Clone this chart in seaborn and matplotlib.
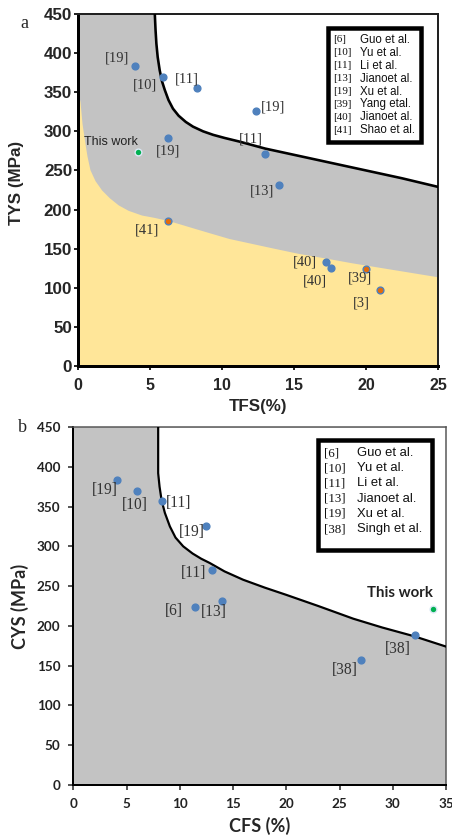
import matplotlib
matplotlib.use('Agg')
import pandas as pd
import matplotlib.pyplot as plt
import seaborn as sns
from matplotlib.patches import Rectangle

# ---- panel a : tensile data ----
tfs = [4.0, 5.9, 8.25, 6.3, 4.2, 12.4, 13.0, 14.0, 6.3, 17.2, 17.6, 20.0, 21.0]
tys = [383, 369, 356, 292, 274, 326, 271, 232, 186, 133, 125, 124, 97]
refs_a = ['[19]', '[10]', '[11]', '[19]', 'This work', '[19]', '[11]', '[13]',
          '[41]', '[40]', '[40]', '[39]', '[3]']
kind_a = ['lit', 'lit', 'lit', 'lit', 'this', 'lit', 'lit', 'lit',
          'alt', 'lit', 'lit', 'alt', 'alt']

# upper boundary (black line) and lower boundary (yellow region), panel a
bound_a_x = [5.35, 5.40, 5.46, 5.55, 5.69, 5.85, 6.04, 6.3, 6.61, 7.0, 7.5, 8.0, 8.7,
             9.4, 10.2, 11.2, 12.0, 13.0, 14.5, 16.0, 18.0, 20.0, 22.5, 25.0]
bound_a_y = [450, 430, 412, 395, 378, 364, 353, 340, 329, 320, 312, 306, 300,
             295.5, 291.5, 287, 283, 278, 272, 266, 258, 250, 240, 229]
yellow_x = [0, 0.08, 0.16, 0.3, 0.5, 0.65, 0.85, 1.2, 1.66, 2.2, 2.81, 3.5, 4.43, 5.3,
            6.27, 7.2, 8.1, 9.2, 10.5, 12.0, 13.5, 15.3, 17.2, 19.0, 21.0, 23.0, 25.0]
yellow_y = [347, 345, 338, 310, 285, 268, 251, 237, 225, 215, 206, 199, 193, 190,
            186, 181, 176, 170, 163, 157, 151, 144, 138, 132, 126, 120, 114]

legend_refs_a = ['[6]', '[10]', '[11]', '[13]', '[19]', '[39]', '[40]', '[41]']
legend_names_a = ['Guo et al.', 'Yu et al.', 'Li et al.', 'Jianoet al.', 'Xu et al.',
                  'Yang etal.', 'Jianoet al.', 'Shao et al.']

# ---- panel b : compressive data ----
cfs = [4.07, 5.95, 8.29, 12.45, 12.98, 11.44, 14.0, 33.77, 32.05, 27.05]
cys = [383, 369, 357, 325, 270, 224, 231, 221, 189, 157]
refs_b = ['[19]', '[10]', '[11]', '[19]', '[11]', '[6]', '[13]', 'This work', '[38]', '[38]']
kind_b = ['lit'] * 7 + ['this', 'lit', 'lit']

bound_b_x = [7.97, 7.97, 8.1, 8.29, 8.6, 9.07, 9.6, 10.32, 11.2, 12.0, 12.82, 14.2,
             15.95, 18.0, 20.0, 23.0, 26.3, 29.0, 32.0, 35.0]
bound_b_y = [450, 392, 375, 358, 342, 325, 311, 300, 291, 284.5, 279, 268.5,
             258, 248, 239, 225, 209, 198, 187, 174]

legend_refs_b = ['[6]', '[10]', '[11]', '[13]', '[19]', '[38]']
legend_names_b = ['Guo et al.', 'Yu et al.', 'Li et al.', 'Jianoet al.', 'Xu et al.', 'Singh et al.']

# label offsets (pixels) from each point
offs_a = [(-18, 8), (-18, -8), (-10, 9), (0, -13), (-27, 10), (17, 4), (-14, 15),
          (-17, -6), (-21, -9), (-21, 0), (-16, -13), (-6, -9), (-19, -13)]
offs_b = [(-12, -10), (-2, -14), (17, -2), (-14, -6), (-18, -3), (-21, -4), (-9, -11),
          (-33, 16), (-17, -14), (-17, -10)]

sns.set_style('ticks')
plt.rcParams['font.family'] = ['Liberation Sans', 'DejaVu Sans']

W, H = 452, 837
fig = plt.figure(figsize=(W / 72, H / 72), dpi=72)


def fx(x):
    return x / W


def fy(y):
    return 1 - y / H


ax_a = fig.add_axes([fx(77.7), fy(366), (438 - 77.7) / W, 352 / H])
ax_b = fig.add_axes([fx(73.3), fy(785), (446 - 73.3) / W, 358 / H])

gray = '#c3c3c3'
blue = '#4f81bd'
orange = '#e46c0a'
green = '#00b050'
palette = {'lit': blue, 'alt': orange, 'this': green}
edges = {'lit': blue, 'alt': blue, 'this': '#dbe8f5'}


def draw_points(ax, df, offs, ref_size, this_font):
    for k, sub in df.groupby('kind'):
        sns.scatterplot(data=sub, x='x', y='y', ax=ax, color=palette[k], s=46,
                        edgecolor=edges[k], linewidth=1.4, zorder=5, legend=False)
    for (_, r), (dx, dy) in zip(df.iterrows(), offs):
        if r['kind'] == 'this':
            ax.annotate(r['ref'], (r['x'], r['y']), xytext=(dx, dy), textcoords='offset points',
                        ha='center', va='center', zorder=6, **this_font)
        else:
            ax.annotate(r['ref'], (r['x'], r['y']), xytext=(dx, dy), textcoords='offset points',
                        ha='center', va='center', family='Liberation Serif', fontsize=ref_size,
                        color='#333333', zorder=6)


# ---------------- panel a ----------------
ax_a.set_facecolor(gray)
ax_a.fill_between(bound_a_x, bound_a_y, 450, color='white', lw=0, zorder=1)
ax_a.fill_between(yellow_x, 0, yellow_y, color='#ffe699', lw=0, zorder=1)
sns.lineplot(x=bound_a_x, y=bound_a_y, ax=ax_a, color='black', lw=2.6,
             estimator=None, sort=False, zorder=3)
df_a = pd.DataFrame({'x': tfs, 'y': tys, 'ref': refs_a, 'kind': kind_a})
draw_points(ax_a, df_a, offs_a, 14.5, dict(fontsize=12.5, color='#222222'))

ax_a.set_xlim(0, 25)
ax_a.set_ylim(0, 450)
ax_a.set_xticks(range(0, 26, 5))
ax_a.set_yticks(range(0, 451, 50))
ax_a.set_xlabel('TFS(%)', fontsize=17, fontweight='bold')
ax_a.set_ylabel('TYS (MPa)', fontsize=17, fontweight='bold')
ax_a.xaxis.set_label_coords(0.5, -0.094)
ax_a.yaxis.set_label_coords(-0.149, 0.52)
ax_a.tick_params(direction='out', length=4, width=2, pad=1.5)
ax_a.tick_params(axis='x', pad=8)
for lab in ax_a.get_xticklabels():
    lab.set_fontweight('bold')
    lab.set_fontsize(16)
for lab in ax_a.get_yticklabels():
    lab.set_fontweight('bold')
    lab.set_fontsize(17)
for s in ['left', 'bottom']:
    ax_a.spines[s].set_linewidth(3)
    ax_a.spines[s].set_color('black')
for s in ['top', 'right']:
    ax_a.spines[s].set_linewidth(2)
    ax_a.spines[s].set_color('#222222')
    ax_a.spines[s].set_visible(True)

# ---------------- panel b ----------------
ax_b.set_facecolor(gray)
ax_b.fill_between(bound_b_x, bound_b_y, 450, color='white', lw=0, zorder=1)
sns.lineplot(x=bound_b_x, y=bound_b_y, ax=ax_b, color='black', lw=2.2,
             estimator=None, sort=False, zorder=3)
df_b = pd.DataFrame({'x': cfs, 'y': cys, 'ref': refs_b, 'kind': kind_b})
draw_points(ax_b, df_b, offs_b, 15.5, dict(fontsize=15, fontweight='bold', color='#222222',
                                           family='Lato'))

ax_b.set_xlim(0, 35)
ax_b.set_ylim(0, 450)
ax_b.set_xticks(range(0, 36, 5))
ax_b.set_yticks(range(0, 451, 50))
ax_b.set_xlabel('CFS (%)', fontsize=18, fontweight='bold', family='Lato')
ax_b.set_ylabel('CYS (MPa)', fontsize=18, fontweight='bold', family='Lato')
ax_b.xaxis.set_label_coords(0.5, -0.089)
ax_b.yaxis.set_label_coords(-0.119, 0.5)
ax_b.tick_params(direction='out', length=5, width=1.5, pad=8, colors='#222222')
for lab in ax_b.get_xticklabels() + ax_b.get_yticklabels():
    lab.set_fontweight('bold')
    lab.set_family('Lato')
    lab.set_fontsize(13.5)
for s in ['left', 'bottom']:
    ax_b.spines[s].set_linewidth(2)
    ax_b.spines[s].set_color('black')
for s in ['top', 'right']:
    ax_b.spines[s].set_linewidth(1.5)
    ax_b.spines[s].set_color('#555555')
    ax_b.spines[s].set_visible(True)


# ---------------- legend boxes ----------------
def legend_box(x0, y0, x1, y1, refs, names, row0, dy, xr, xn, fr, fn):
    fig.patches.append(Rectangle((fx(x0), fy(y1)), (x1 - x0) / W, (y1 - y0) / H,
                                 transform=fig.transFigure, facecolor='white',
                                 edgecolor='black', lw=4.5, zorder=10))
    for i, (r, n) in enumerate(zip(refs, names)):
        yy = row0 + i * dy
        fig.text(fx(xr), fy(yy), r, family='Liberation Serif', fontsize=fr,
                 va='center', ha='left', color='#111111', zorder=11)
        fig.text(fx(xn), fy(yy), n, fontsize=fn, va='center', ha='left',
                 color='#111111', zorder=11)


legend_box(328, 28, 421, 142, legend_refs_a, legend_names_a, 40, 12.9, 333, 360, 11, 11.5)
legend_box(318, 440, 432, 550, legend_refs_b, legend_names_b, 453, 15.2, 324, 357, 13, 13)

fig.text(fx(20), fy(24), 'a', family='Liberation Serif', fontsize=18, va='center')
fig.text(fx(18), fy(428), 'b', family='Liberation Serif', fontsize=18, va='center')

fig.savefig('out.png', dpi=72)
